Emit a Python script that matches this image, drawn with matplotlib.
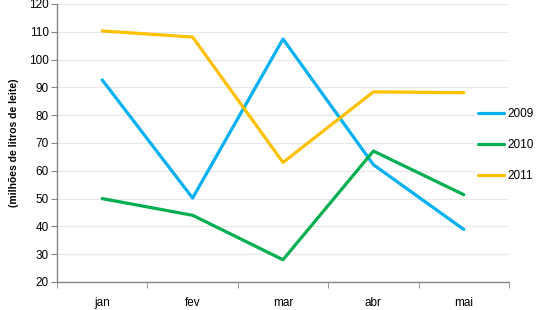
import matplotlib.pyplot as plt
import numpy as np

meses = ['jan', 'fev', 'mar', 'abr', 'mai']
anos = ['2009', '2010', '2011']
v2009 = [92.7, 50.2, 107.4, 62.2, 38.9]
v2010 = [50.0, 44.0, 28.0, 67.1, 51.4]
v2011 = [110.3, 108.1, 63.0, 88.4, 88.1]
cores = ['#00B0F0', '#00B050', '#FFC000']

plt.rcParams['font.family'] = ['Liberation Sans', 'DejaVu Sans']

fig = plt.figure(figsize=(5.36, 3.10), dpi=100)
ax = fig.add_axes([57 / 536, 1 - 282 / 310, (509 - 57) / 536, (282 - 4) / 310])

x = np.arange(len(meses))
for nome, vals, cor in zip(anos, [v2009, v2010, v2011], cores):
    ax.plot(x, vals, color=cor, linewidth=2.3, label=nome, solid_capstyle='round')

ax.set_xlim(-0.5, len(meses) - 0.5)
ax.set_ylim(20, 120)
ax.set_yticks(range(20, 121, 10))
ax.set_xticks(x)
ax.set_xticklabels(meses)
ax.set_xticks(np.arange(-0.5, len(meses), 1), minor=True)
ax.tick_params(axis='x', which='major', length=0, pad=11, labelsize=8.5)
ax.tick_params(axis='x', which='minor', length=4, color='#868686')
ax.tick_params(axis='y', length=4, color='#868686', labelsize=8.5, pad=2)

ax.grid(axis='y', color='#E8E8E8', linewidth=0.9)
ax.set_axisbelow(True)
for s in ['top', 'right']:
    ax.spines[s].set_visible(False)
for s in ['left', 'bottom']:
    ax.spines[s].set_color('#868686')
    ax.spines[s].set_linewidth(1.0)

ax.set_ylabel('(milhões de litros de leite)', fontsize=7.5, fontweight='bold', labelpad=7)

leg = fig.legend(loc='center left', bbox_to_anchor=(476 / 536, 1 - 145 / 310),
                 fontsize=8.5, handlelength=2.2, labelspacing=1.6, handletextpad=0.25,
                 frameon=True, fancybox=False, edgecolor='white', facecolor='white',
                 framealpha=1, borderpad=0.2, borderaxespad=0)

fig.savefig('out.png', dpi=100)
